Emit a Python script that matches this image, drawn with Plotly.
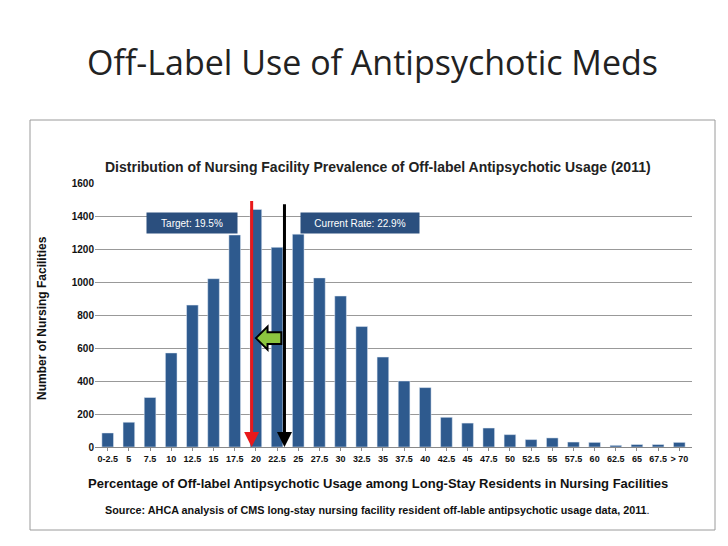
import plotly.graph_objects as go

categories = ["0-2.5","5","7.5","10","12.5","15","17.5","20","22.5","25","27.5","30","32.5","35",
              "37.5","40","42.5","45","47.5","50","52.5","55","57.5","60","62.5","65","67.5","> 70"]
counts = [85,150,300,570,860,1020,1285,1440,1210,1290,1025,915,730,545,
          400,360,180,145,115,75,45,55,30,28,10,15,15,28]
target_pos = 6.8
current_pos = 8.35

OFF = 8
W, H = 728 - 2 * OFF, 546 - 2 * OFF
L, R, T, B = 95 - OFF, 36 - OFF, 183 - OFF, 99 - OFF
def px(x): return (x - OFF - L) / (W - L - R)
def py(y): return (H - B - (y - OFF)) / (H - B - T)

idx = list(range(len(categories)))
fig = go.Figure(go.Bar(x=idx, y=counts, marker_color="#2E5A8E", width=0.55))

gy, bh, hh = 660, 36, 70
tip = target_pos + 0.2
hb = tip + 0.55
tail = current_pos - 0.15
green_path = (f"M {tip} {gy} L {hb} {gy+hh} L {hb} {gy+bh} L {tail} {gy+bh} "
              f"L {tail} {gy-bh} L {hb} {gy-bh} L {hb} {gy-hh} Z")

font = "Liberation Sans"
shapes = [
    dict(type="rect", xref="paper", yref="paper", x0=px(30), x1=px(715), y0=py(530), y1=py(120),
         line=dict(color="#9a9a9a", width=1), fillcolor="rgba(0,0,0,0)", layer="below"),
    dict(type="rect", xref="paper", yref="paper", x0=px(0), x1=px(728), y0=py(546), y1=py(539),
         line=dict(width=0), fillcolor="#8DB33A"),
    dict(type="path", xref="x", yref="y", path=green_path, fillcolor="#8CC63F",
         line=dict(color="#000", width=2)),
]
ann = [
    dict(text="Off-Label Use of Antipsychotic Meds", x=px(85), y=py(62), xref="paper", yref="paper",
         xanchor="left", yanchor="middle", showarrow=False, font=dict(size=34, color="#222", family="Open Sans")),
    dict(text="<b>Distribution of Nursing Facility Prevalence of Off-label Antipsychotic Usage (2011)</b>",
         x=px(378), y=py(157), xref="paper", yref="paper", xanchor="center", showarrow=False,
         font=dict(size=14, color="#222", family=font)),
    dict(text="<b>Percentage of Off-label Antipsychotic Usage among Long-Stay Residents in Nursing Facilities</b>",
         x=px(378), y=py(493), xref="paper", yref="paper", xanchor="center", showarrow=False,
         font=dict(size=13, color="#111", family=font)),
    dict(text="<b>Source: AHCA analysis of CMS long-stay nursing facility resident off-lable antipsychotic usage data, 2011</b>.",
         x=px(377), y=py(518), xref="paper", yref="paper", xanchor="center", showarrow=False,
         font=dict(size=10.8, color="#111", family=font)),
    dict(text="<b>Number of Nursing Facilities</b>", x=px(42), y=py(318), xref="paper", yref="paper",
         xanchor="center", showarrow=False, textangle=-90, font=dict(size=12, color="#111", family=font)),
    dict(text="Target: 19.5%", x=px(192), y=py(212), xref="paper", yref="paper", xanchor="center",
         showarrow=False, bgcolor="#2B4F7E", font=dict(size=10, color="white", family=font),
         width=88, height=18, borderpad=1),
    dict(text="Current Rate: 22.9%", x=px(360), y=py(212), xref="paper", yref="paper", xanchor="center",
         showarrow=False, bgcolor="#2B4F7E", font=dict(size=10, color="white", family=font),
         width=116, height=18, borderpad=1),
    dict(x=target_pos, y=0, ax=target_pos, ay=1500, xref="x", yref="y", axref="x", ayref="y",
         showarrow=True, arrowhead=2, arrowsize=1, arrowwidth=3, arrowcolor="#E8191B", text=""),
    dict(x=current_pos, y=0, ax=current_pos, ay=1480, xref="x", yref="y", axref="x", ayref="y",
         showarrow=True, arrowhead=2, arrowsize=1, arrowwidth=3, arrowcolor="#000", text=""),
]
fig.update_layout(
    width=W, height=H, margin=dict(l=L, r=R, t=T, b=B), plot_bgcolor="white", paper_bgcolor="white",
    showlegend=False, shapes=shapes, annotations=ann,
    xaxis=dict(tickmode="array", tickvals=idx, ticktext=[f"<b>{c}</b>" for c in categories],
               range=[-0.6, len(categories) - 0.4], showgrid=False, showline=True, linecolor="#888",
               tickfont=dict(size=9, color="#111", family=font), tickangle=0, ticks="outside",
               ticklen=3, tickcolor="#888"),
    yaxis=dict(range=[0, 1600], dtick=200, gridcolor="#999", showline=False, zeroline=False,
               tickfont=dict(size=10, color="#111", family=font), tickprefix="<b>", ticksuffix="</b>"),
)
fig.write_html("out.html")
